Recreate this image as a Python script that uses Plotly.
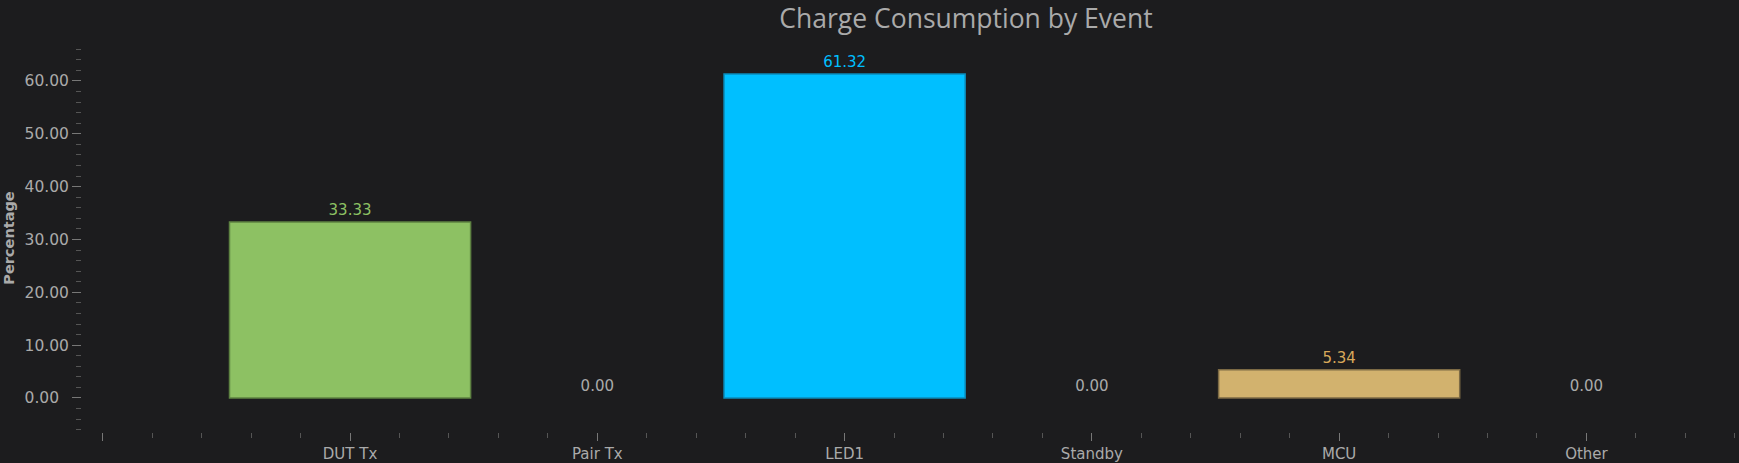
import plotly.graph_objects as go

categories = ["DUT Tx", "Pair Tx", "LED1", "Standby", "MCU", "Other"]
values = [33.33, 0.00, 61.32, 0.00, 5.34, 0.00]
bar_colors = ["#8dc163", "#9e9e9e", "#00bfff", "#9e9e9e", "#d2b26e", "#9e9e9e"]
edge_colors = ["#5e8242", "#6e6e6e", "#0a8cbc", "#6e6e6e", "#7c6a45", "#6e6e6e"]
text_colors = ["#8dc163", "#aaaaaa", "#00bfff", "#aaaaaa", "#d8a85a", "#aaaaaa"]
y_tickvals = [0, 10, 20, 30, 40, 50, 60]
y_ticktext = [f"{v:\u2007<5.2f}" for v in y_tickvals]

x_pos = list(range(len(categories)))
x_tickvals = [-1] + x_pos
x_ticktext = [""] + categories

BG = "#1c1c1e"
FG = "#aaaaaa"

fig = go.Figure(go.Bar(
    x=x_pos,
    y=values,
    width=0.975,
    marker=dict(color=bar_colors,
                line=dict(color=edge_colors, width=[1.5 if v > 0 else 0 for v in values])),
    text=[f"{v:.2f}" for v in values],
    textposition="outside",
    textfont=dict(color=text_colors, size=15, family="DejaVu Sans"),
    cliponaxis=False,
    hoverinfo="x+y",
))

fig.update_layout(
    width=1739, height=463,
    paper_bgcolor=BG, plot_bgcolor=BG,
    margin=dict(l=82, r=0, t=44, b=31),
    showlegend=False,
    font=dict(family="DejaVu Sans", color=FG, size=15),
    title=dict(
        text="Charge Consumption by Event",
        x=966 / 1739, xref="container", xanchor="center",
        y=1 - 19 / 463, yref="container", yanchor="middle",
        font=dict(family="Open Sans", size=26.5, color=FG),
    ),
    xaxis=dict(
        range=[-1.084, 5.617],
        tickmode="array", tickvals=x_tickvals, ticktext=x_ticktext,
        ticks="outside", ticklen=8, tickwidth=1, tickcolor="#777777",
        minor=dict(dtick=0.2, tick0=0, ticks="outside", ticklen=5, tickcolor="#555555", showgrid=False),
        showgrid=False, zeroline=False, showline=False,
        tickfont=dict(family="DejaVu Sans", size=15, color=FG),
    ),
    yaxis=dict(
        range=[-6.44, 67.0],
        tickmode="array", tickvals=y_tickvals, ticktext=y_ticktext,
        ticks="outside", ticklen=9, tickwidth=1, tickcolor="#777777",
        minor=dict(dtick=2, tick0=0, ticks="outside", ticklen=5, tickcolor="#555555", showgrid=False),
        showgrid=False, zeroline=False, showline=False,
        tickfont=dict(family="DejaVu Sans", size=15.5, color=FG),
        title=dict(text="<b>Percentage</b>", font=dict(family="DejaVu Sans", size=14.5, color=FG), standoff=6),
    ),
)

fig.write_html("out.html", config={"displayModeBar": False},
               post_script="document.body.style.margin='0';document.body.style.overflow='hidden';")
